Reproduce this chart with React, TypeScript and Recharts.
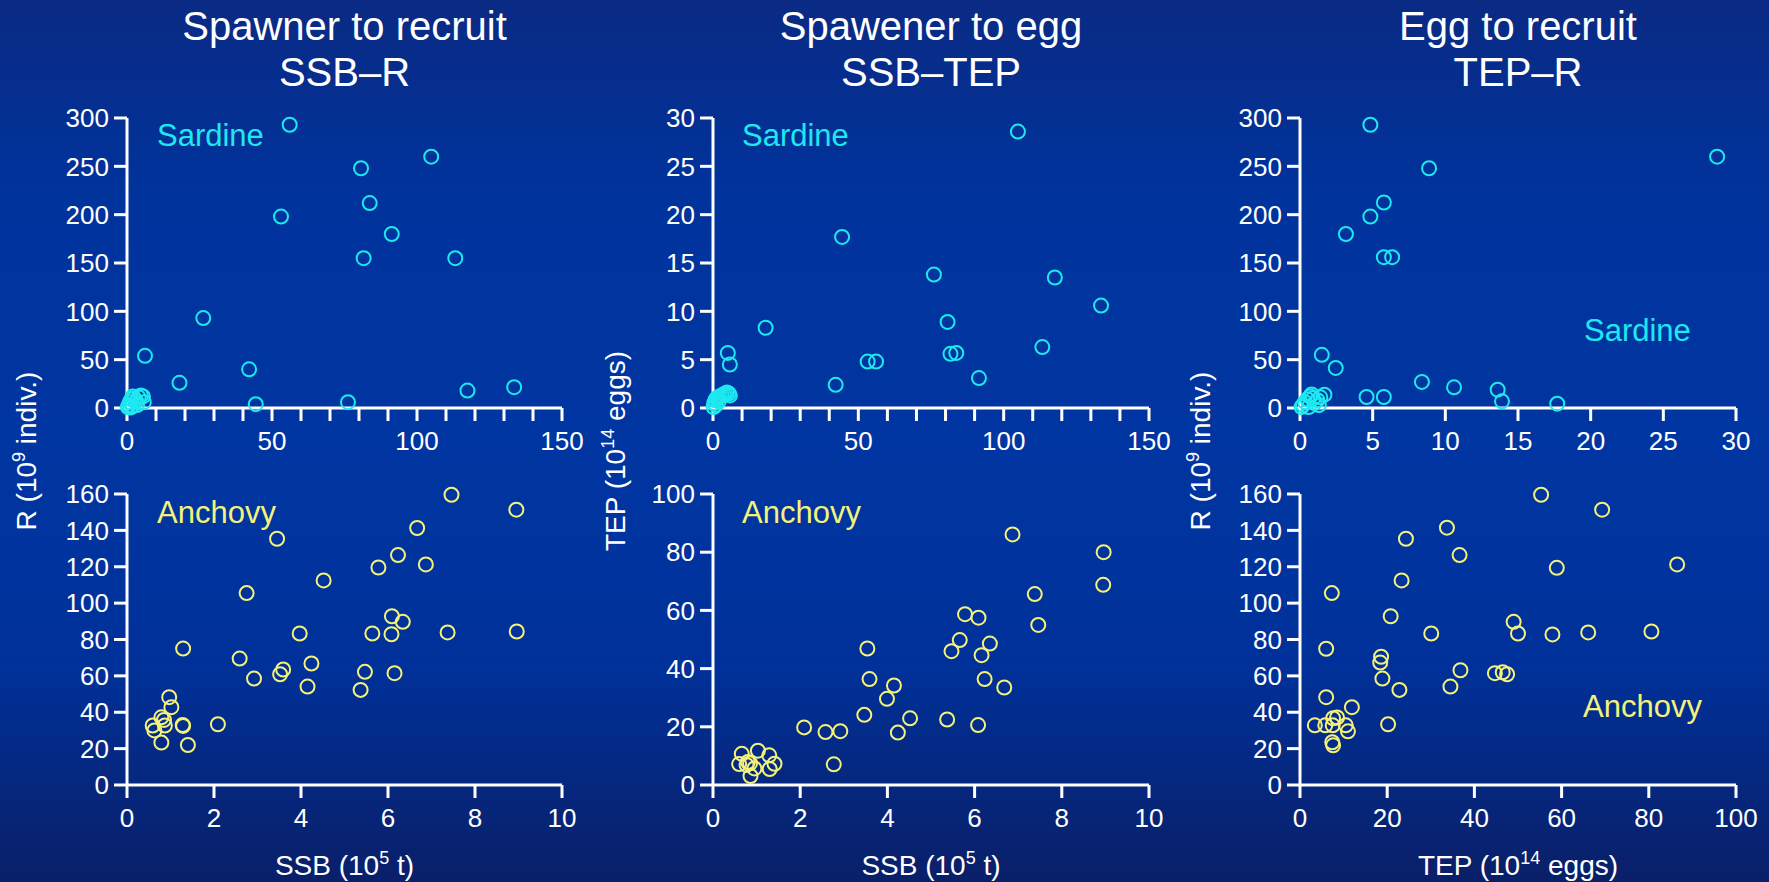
import React from 'react'
import { ScatterChart, Scatter, XAxis, YAxis } from 'recharts'

// values: [x, y] pairs
const sardineSsbR: [number, number][] = [
  [56.1, 293], [104.9, 260], [80.7, 248], [83.7, 212], [53.1, 198], [91.3, 180],
  [81.6, 155], [113.2, 155], [26.3, 93], [6.2, 54], [42.1, 40], [18.1, 26],
  [117.4, 18], [133.5, 21.5], [44.4, 4], [76.2, 6],
  [0.3, 1], [0.6, 3], [1.0, 6], [1.5, 9], [2.0, 12], [2.5, 10], [3.2, 7],
  [4.0, 11], [4.8, 13], [5.5, 12], [5.8, 6], [2.0, 2], [1.2, 0.5], [3.5, 3],
]
const anchovySsbR: [number, number][] = [
  [7.46, 159.6], [8.95, 151.4], [6.67, 141.3], [3.45, 135.4], [6.23, 126.4], [5.78, 119.6],
  [6.87, 121.3], [4.52, 112.5], [2.75, 105.5], [6.09, 92.8], [6.34, 89.7], [3.97, 83.3],
  [5.64, 83.3], [6.08, 82.9], [7.37, 83.9], [8.96, 84.4], [1.29, 75], [2.59, 69.5],
  [4.24, 66.8], [3.59, 63.5], [3.52, 60.9], [2.92, 58.5], [5.47, 62.2], [6.15, 61.5],
  [4.15, 54.1], [5.37, 52.3], [0.97, 48.3], [1.02, 42.8], [2.09, 33.4], [1.28, 33],
  [1.29, 32.5], [0.59, 32.7], [0.63, 30], [0.79, 37.2], [0.85, 35.8], [0.87, 32.7],
  [0.79, 23.3], [1.4, 22],
]
const sardineSsbTep: [number, number][] = [
  [104.9, 28.6], [44.4, 17.7], [76.0, 13.8], [117.6, 13.5], [133.5, 10.6], [80.7, 8.9],
  [18.1, 8.3], [113.3, 6.3], [81.7, 5.6], [83.7, 5.7], [5.1, 5.7], [5.8, 4.5],
  [53.2, 4.8], [56.1, 4.8], [91.5, 3.1], [42.2, 2.4],
  [0.2, 0.1], [0.4, 0.5], [0.8, 0.8], [1.2, 1.0], [1.8, 1.1], [2.4, 1.2], [3.0, 1.3],
  [3.6, 1.4], [4.2, 1.5], [4.8, 1.6], [5.4, 1.5], [5.8, 1.3], [2.0, 0.7], [1.0, 0.3],
]
const anchovySsbTep: [number, number][] = [
  [6.87, 86.1], [8.96, 80], [8.95, 68.8], [7.38, 65.6], [7.46, 55], [5.78, 58.7],
  [6.09, 57.5], [5.66, 49.8], [6.35, 48.6], [5.47, 46], [6.16, 44.6], [3.54, 46.9],
  [3.59, 36.4], [6.23, 36.4], [6.68, 33.5], [4.15, 34.2], [3.99, 29.6], [3.47, 24.1],
  [4.52, 22.9], [5.37, 22.5], [6.08, 20.6], [2.09, 19.8], [2.58, 18.2], [2.92, 18.5],
  [4.24, 18], [2.77, 7.1], [0.66, 10.7], [1.03, 11.8], [1.29, 10.2], [0.6, 7.2],
  [0.8, 7.9], [0.85, 7.5], [0.95, 5.7], [1.3, 5.5], [1.41, 7.3], [0.86, 3.1], [0.77, 6.9],
]
const sardineTepR: [number, number][] = [
  [4.84, 293], [28.7, 260], [8.88, 248], [5.77, 212.6], [4.84, 198], [3.16, 180],
  [5.77, 156], [6.34, 156], [1.5, 55], [2.46, 41.5], [8.39, 27], [10.6, 21.4],
  [13.6, 19], [13.9, 6.9], [17.7, 4.5], [4.58, 11.4], [5.77, 11.4], [1.68, 13.8],
  [0.1, 1], [0.2, 3], [0.35, 6], [0.5, 9], [0.7, 12], [0.9, 10], [1.0, 5],
  [1.2, 8], [1.4, 11], [1.3, 3], [0.6, 1], [0.8, 14],
]
const anchovyTepR: [number, number][] = [
  [55.3, 159.6], [69.3, 151.4], [33.7, 141.5], [24.3, 135.4], [36.6, 126.4], [58.9, 119.4],
  [86.5, 121.3], [23.3, 112.5], [7.3, 105.5], [20.8, 92.8], [49.0, 89.7], [30.1, 83.3],
  [50.0, 83.3], [57.9, 82.8], [66.1, 83.9], [80.6, 84.4], [6.0, 74.9], [18.6, 70.5],
  [18.4, 67.3], [36.8, 63.1], [18.9, 58.5], [44.7, 61.5], [46.5, 62], [47.5, 60.9],
  [34.5, 54.1], [22.8, 52.3], [6.0, 48.3], [11.9, 42.8], [20.2, 33.4], [3.4, 32.8],
  [5.8, 32.8], [7.5, 32.8], [7.6, 36.7], [8.5, 37.1], [10.5, 32.8], [11.0, 29.5],
  [7.4, 23.5], [7.6, 21.8],
]

const ssbTicks = [0, 10, 20, 30, 40, 50, 60, 70, 80, 90, 100, 110, 120, 130, 140, 150]
const ssbAnchTicks = [0, 2, 4, 6, 8, 10]
const tepSardTicks = [0, 5, 10, 15, 20, 25, 30]
const tepAnchTicks = [0, 20, 40, 60, 80, 100]
const rSardTicks = [0, 50, 100, 150, 200, 250, 300]
const rAnchTicks = [0, 20, 40, 60, 80, 100, 120, 140, 160]
const tepYSardTicks = [0, 5, 10, 15, 20, 25, 30]
const tepYAnchTicks = [0, 20, 40, 60, 80, 100]

const CYAN = '#1ee8f0'
const YELLOW = '#f4f27a'
const FONT = '"Liberation Sans", Arial, sans-serif'

const cols = [
  [127, 562],
  [713, 1149],
  [1300, 1736],
]
const rows = [
  [118, 408],
  [494, 785],
]

const ring = (color: string) => (props: any) =>
  <circle cx={props.cx} cy={props.cy} r={7} fill="none" stroke={color} strokeWidth={2} />

function Panel({ col, row, data, color, xTicks, xEvery, yTicks }: any) {
  const [x0, x1] = cols[col]
  const [y0, y1] = rows[row]
  const padL = 90, padT = 20, padR = 30, padB = 60
  const pts = data.map(([x, y]: [number, number]) => ({ x, y }))
  const axisStyle = { stroke: '#ffffff', strokeWidth: 3 }
  return (
    <div style={{ position: 'absolute', left: x0 - padL, top: y0 - padT }}>
      <ScatterChart
        width={x1 - x0 + padL + padR}
        height={y1 - y0 + padT + padB}
        margin={{ top: padT, right: padR, left: 0, bottom: 0 }}
      >
        <XAxis
          type="number"
          dataKey="x"
          domain={[0, xTicks[xTicks.length - 1]]}
          ticks={xTicks}
          interval={0}
          height={padB}
          tickSize={13}
          tickMargin={11}
          axisLine={axisStyle}
          tickLine={axisStyle}
          tick={{ fill: '#ffffff', fontSize: 26 }}
          tickFormatter={(v: number) => (v % xEvery === 0 ? String(v) : '')}
        />
        <YAxis
          type="number"
          dataKey="y"
          domain={[0, yTicks[yTicks.length - 1]]}
          ticks={yTicks}
          interval={0}
          width={padL}
          tickSize={13}
          tickMargin={5}
          axisLine={axisStyle}
          tickLine={axisStyle}
          tick={{ fill: '#ffffff', fontSize: 26 }}
        />
        <Scatter data={pts} shape={ring(color)} isAnimationActive={false} />
      </ScatterChart>
    </div>
  )
}

export default function App() {
  const colMid = cols.map(([a, b]) => (a + b) / 2)
  return (
    <div
      style={{
        position: 'absolute',
        left: 0,
        top: 0,
        width: 1769,
        height: 882,
        overflow: 'hidden',
        fontFamily: FONT,
        background: 'linear-gradient(180deg, #0a2a84 0%, #00339c 22%, #0036a2 50%, #00319a 75%, #0a1f68 100%)',
      }}
    >
      <Panel col={0} row={0} data={sardineSsbR} color={CYAN} xTicks={ssbTicks} xEvery={50} yTicks={rSardTicks} />
      <Panel col={0} row={1} data={anchovySsbR} color={YELLOW} xTicks={ssbAnchTicks} xEvery={2} yTicks={rAnchTicks} />
      <Panel col={1} row={0} data={sardineSsbTep} color={CYAN} xTicks={ssbTicks} xEvery={50} yTicks={tepYSardTicks} />
      <Panel col={1} row={1} data={anchovySsbTep} color={YELLOW} xTicks={ssbAnchTicks} xEvery={2} yTicks={tepYAnchTicks} />
      <Panel col={2} row={0} data={sardineTepR} color={CYAN} xTicks={tepSardTicks} xEvery={5} yTicks={rSardTicks} />
      <Panel col={2} row={1} data={anchovyTepR} color={YELLOW} xTicks={tepAnchTicks} xEvery={20} yTicks={rAnchTicks} />

      <svg width={1769} height={882} style={{ position: 'absolute', left: 0, top: 0, pointerEvents: 'none' }}>
        <g fill="#ffffff" fontSize={40} textAnchor="middle">
          <text x={colMid[0]} y={40}>Spawner to recruit</text>
          <text x={colMid[0]} y={86}>SSB–R</text>
          <text x={colMid[1]} y={40}>Spawener to egg</text>
          <text x={colMid[1]} y={86}>SSB–TEP</text>
          <text x={colMid[2]} y={40}>Egg to recruit</text>
          <text x={colMid[2]} y={86}>TEP–R</text>
        </g>

        <g fill="#ffffff" fontSize={28} textAnchor="middle">
          <text x={colMid[0]} y={875}>
            SSB (10<tspan dy={-11} fontSize={18}>5</tspan><tspan dy={11}> t)</tspan>
          </text>
          <text x={colMid[1]} y={875}>
            SSB (10<tspan dy={-11} fontSize={18}>5</tspan><tspan dy={11}> t)</tspan>
          </text>
          <text x={colMid[2]} y={875}>
            TEP (10<tspan dy={-11} fontSize={18}>14</tspan><tspan dy={11}> eggs)</tspan>
          </text>
          <text transform="translate(36,451) rotate(-90)">
            R (10<tspan dy={-11} fontSize={18}>9</tspan><tspan dy={11}> indiv.)</tspan>
          </text>
          <text transform="translate(625,451) rotate(-90)">
            TEP (10<tspan dy={-11} fontSize={18}>14</tspan><tspan dy={11}> eggs)</tspan>
          </text>
          <text transform="translate(1210,451) rotate(-90)">
            R (10<tspan dy={-11} fontSize={18}>9</tspan><tspan dy={11}> indiv.)</tspan>
          </text>
        </g>

        <g fontSize={31}>
          <text x={157} y={146} fill={CYAN}>Sardine</text>
          <text x={742} y={146} fill={CYAN}>Sardine</text>
          <text x={1584} y={341} fill={CYAN}>Sardine</text>
          <text x={157} y={523} fill={YELLOW}>Anchovy</text>
          <text x={742} y={523} fill={YELLOW}>Anchovy</text>
          <text x={1583} y={717} fill={YELLOW}>Anchovy</text>
        </g>
      </svg>
    </div>
  )
}
